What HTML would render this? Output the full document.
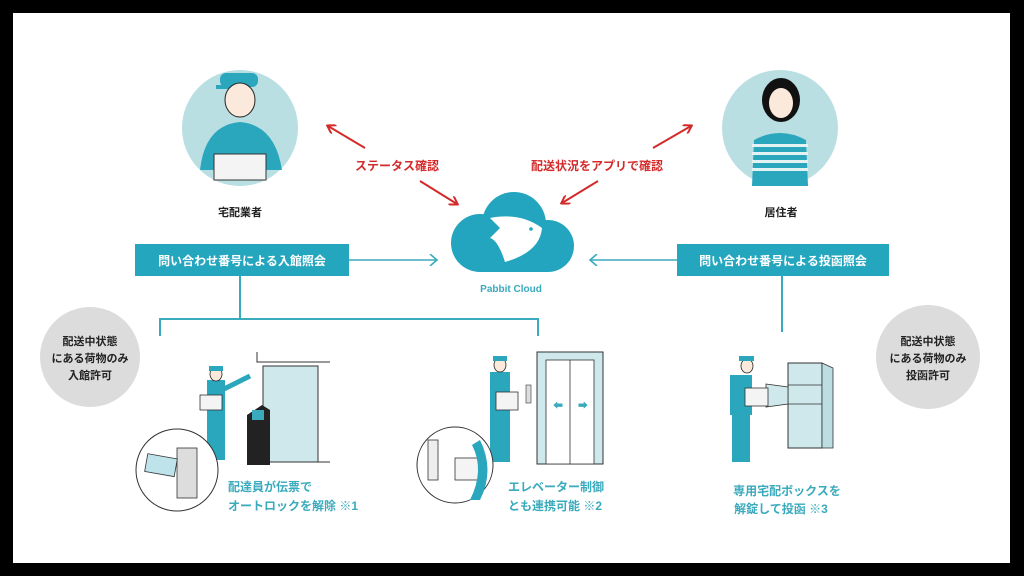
<!DOCTYPE html>
<html><head><meta charset="utf-8"><style>
html,body{margin:0;padding:0;background:#000;}
svg{display:block}
text{font-family:"Liberation Sans","Noto Sans CJK JP",sans-serif;font-weight:bold}
</style></head><body>
<svg width="1024" height="576" viewBox="0 0 1024 576" xmlns="http://www.w3.org/2000/svg">
<rect x="0" y="0" width="1024" height="576" fill="#000"/>
<rect x="13" y="13" width="997" height="550" fill="#fff"/>
<defs>
<marker id="ra" markerWidth="10" markerHeight="10" refX="8" refY="5" orient="auto" markerUnits="userSpaceOnUse"><path d="M1,0 L9,5 L1,10" fill="none" stroke="#d42a2a" stroke-width="2"/></marker>
<marker id="ta" markerWidth="10" markerHeight="12" refX="8" refY="6" orient="auto" markerUnits="userSpaceOnUse"><path d="M1,0 L8,6 L1,12" fill="none" stroke="#3aaabd" stroke-width="1.6"/></marker>
</defs>

<circle cx="240" cy="128" r="58" fill="#b9dfe3"/>
<g>
<rect x="220" y="73" width="38" height="14" rx="6" fill="#2aa6bd"/>
<rect x="216" y="85" width="16" height="4" fill="#2aa6bd"/>
<ellipse cx="240" cy="100" rx="15" ry="17" fill="#fbe9dc" stroke="#222" stroke-width="1"/>
<path d="M200,170 Q205,125 240,122 Q275,125 282,170 Z" fill="#2aa6bd"/>
<rect x="214" y="154" width="52" height="26" fill="#f4f4f4" stroke="#333" stroke-width="1"/>
</g>
<circle cx="780" cy="128" r="58" fill="#b9dfe3"/>
<g>
<ellipse cx="781" cy="100" rx="19" ry="22" fill="#111"/>
<ellipse cx="781" cy="103" rx="12" ry="15" fill="#fbe9dc"/>
<path d="M752,186 L754,140 Q780,126 806,140 L808,186 Z" fill="#2aa6bd"/>
<rect x="752" y="144" width="56" height="3" fill="#e4f2f4"/>
<rect x="752" y="152" width="56" height="3" fill="#e4f2f4"/>
<rect x="752" y="160" width="56" height="3" fill="#e4f2f4"/>
<rect x="752" y="168" width="56" height="3" fill="#e4f2f4"/>
</g>
<text x="240" y="216" font-size="11" text-anchor="middle" fill="#222">宅配業者</text>
<text x="781" y="216" font-size="11" text-anchor="middle" fill="#222">居住者</text>

<line x1="365" y1="148" x2="328" y2="126" stroke="#d42a2a" stroke-width="2" marker-end="url(#ra)"/>
<line x1="420" y1="181" x2="457" y2="204" stroke="#d42a2a" stroke-width="2" marker-end="url(#ra)"/>
<line x1="653" y1="148" x2="691" y2="126" stroke="#d42a2a" stroke-width="2" marker-end="url(#ra)"/>
<line x1="598" y1="181" x2="562" y2="203" stroke="#d42a2a" stroke-width="2" marker-end="url(#ra)"/>
<text x="397" y="170" font-size="12" text-anchor="middle" fill="#d42a2a">ステータス確認</text>
<text x="597" y="170" font-size="12" text-anchor="middle" fill="#d42a2a">配送状況をアプリで確認</text>

<g fill="#23a5bf">
<circle cx="514" cy="224" r="32"/>
<circle cx="480" cy="243" r="29"/>
<circle cx="548" cy="246" r="26"/>
<rect x="480" y="240" width="68" height="32"/>
</g>
<path d="M490,218 Q520,212 542,228 Q540,252 505,262 Q498,240 490,238 L500,228 Z" fill="#fff"/>
<circle cx="531" cy="229" r="1.8" fill="#23a5bf"/>
<text x="511" y="292" font-size="10" text-anchor="middle" fill="#3aaabd">Pabbit Cloud</text>

<rect x="135" y="244" width="214" height="32" fill="#25a6bf"/>
<text x="242" y="265" font-size="12" text-anchor="middle" fill="#fff">問い合わせ番号による入館照会</text>
<rect x="677" y="244" width="212" height="32" fill="#25a6bf"/>
<text x="783" y="265" font-size="12" text-anchor="middle" fill="#fff">問い合わせ番号による投函照会</text>
<line x1="349" y1="260" x2="437" y2="260" stroke="#3aaabd" stroke-width="1.6" marker-end="url(#ta)"/>
<line x1="677" y1="260" x2="590" y2="260" stroke="#3aaabd" stroke-width="1.6" marker-end="url(#ta)"/>

<g stroke="#3aaabd" stroke-width="2" fill="none">
<line x1="240" y1="276" x2="240" y2="319"/>
<polyline points="160,336 160,319 538,319 538,336"/>
<line x1="782" y1="276" x2="782" y2="332"/>
</g>

<circle cx="90" cy="357" r="50" fill="#dcdcdc"/>
<text x="90" y="345" font-size="11" text-anchor="middle" fill="#222">配送中状態</text>
<text x="90" y="362" font-size="11" text-anchor="middle" fill="#222">にある荷物のみ</text>
<text x="90" y="379" font-size="11" text-anchor="middle" fill="#222">入館許可</text>
<circle cx="928" cy="357" r="52" fill="#dcdcdc"/>
<text x="928" y="345" font-size="11" text-anchor="middle" fill="#222">配送中状態</text>
<text x="928" y="362" font-size="11" text-anchor="middle" fill="#222">にある荷物のみ</text>
<text x="928" y="379" font-size="11" text-anchor="middle" fill="#222">投函許可</text>

<g>
<polyline points="257,352 257,362 330,362" fill="none" stroke="#333" stroke-width="1"/>
<rect x="263" y="366" width="55" height="96" fill="#cfe8ec" stroke="#333" stroke-width="1"/>
<line x1="263" y1="462" x2="330" y2="462" stroke="#333"/>
<path d="M247,415 L262,405 L270,410 L270,465 L247,465 Z" fill="#222"/>
<rect x="252" y="410" width="12" height="10" fill="#3aaabd"/>
<rect x="207" y="380" width="18" height="38" fill="#2aa6bd"/>
<rect x="207" y="418" width="18" height="42" fill="#2aa6bd"/>
<ellipse cx="216" cy="374" rx="6" ry="7" fill="#fbe9dc" stroke="#222" stroke-width="0.8"/>
<rect x="209" y="366" width="14" height="5" fill="#2aa6bd"/>
<line x1="222" y1="390" x2="250" y2="376" stroke="#2aa6bd" stroke-width="5"/>
<rect x="200" y="395" width="22" height="15" fill="#f4f4f4" stroke="#333" stroke-width="0.8"/>
<circle cx="177" cy="470" r="41" fill="#fff" stroke="#333" stroke-width="1"/>
<rect x="177" y="448" width="20" height="50" fill="#ddd" stroke="#333" stroke-width="0.8"/>
<rect x="146" y="456" width="30" height="18" fill="#bfe3ea" stroke="#333" stroke-width="0.8" transform="rotate(10 160 465)"/>
</g>
<text x="228" y="491" font-size="12" fill="#3aaabd">配達員が伝票で</text>
<text x="228" y="510" font-size="12" fill="#3aaabd">オートロックを解除 ※1</text>

<g>
<rect x="537" y="352" width="66" height="112" fill="#cfe8ec" stroke="#333" stroke-width="1"/>
<rect x="546" y="360" width="48" height="104" fill="#fff" stroke="#333" stroke-width="0.8"/>
<line x1="570" y1="360" x2="570" y2="464" stroke="#333" stroke-width="0.8"/>
<text x="553" y="409" font-size="10" fill="#3aaabd">⬅</text>
<text x="578" y="409" font-size="10" fill="#3aaabd">➡</text>
<rect x="526" y="385" width="5" height="18" fill="#ddd" stroke="#333" stroke-width="0.6"/>
<rect x="490" y="372" width="20" height="40" fill="#2aa6bd"/>
<rect x="490" y="412" width="20" height="50" fill="#2aa6bd"/>
<ellipse cx="500" cy="365" rx="6" ry="7" fill="#fbe9dc" stroke="#222" stroke-width="0.8"/>
<rect x="493" y="356" width="14" height="5" fill="#2aa6bd"/>
<rect x="496" y="392" width="22" height="18" fill="#f4f4f4" stroke="#333" stroke-width="0.8"/>
<circle cx="455" cy="465" r="38" fill="#fff" stroke="#333" stroke-width="1"/>
<rect x="428" y="440" width="10" height="40" fill="#eee" stroke="#333" stroke-width="0.8"/>
<rect x="455" y="458" width="26" height="22" fill="#f4f4f4" stroke="#333" stroke-width="0.8"/>
<path d="M480,440 Q495,470 480,500 L470,500 Q485,470 472,445 Z" fill="#2aa6bd"/>
</g>
<text x="508" y="491" font-size="12" fill="#3aaabd">エレベーター制御</text>
<text x="508" y="510" font-size="12" fill="#3aaabd">とも連携可能 ※2</text>

<g>
<rect x="788" y="363" width="34" height="85" fill="#cfe8ec" stroke="#333" stroke-width="1"/>
<polygon points="822,363 833,368 833,448 822,448" fill="#bcdde2" stroke="#333" stroke-width="0.8"/>
<line x1="788" y1="385" x2="822" y2="385" stroke="#333" stroke-width="0.8"/>
<line x1="788" y1="404" x2="822" y2="404" stroke="#333" stroke-width="0.8"/>
<polygon points="766,384 788,387 788,404 766,407" fill="#cfe8ec" stroke="#333" stroke-width="0.8"/>
<rect x="730" y="375" width="22" height="40" fill="#2aa6bd"/>
<rect x="732" y="415" width="18" height="47" fill="#2aa6bd"/>
<ellipse cx="747" cy="366" rx="6" ry="7" fill="#fbe9dc" stroke="#222" stroke-width="0.8"/>
<rect x="739" y="356" width="15" height="5" fill="#2aa6bd"/>
<rect x="745" y="388" width="23" height="18" fill="#f4f4f4" stroke="#333" stroke-width="0.8"/>
</g>
<text x="787" y="495" font-size="12" text-anchor="middle" fill="#3aaabd">専用宅配ボックスを</text>
<text x="781" y="513" font-size="12" text-anchor="middle" fill="#3aaabd">解錠して投函 ※3</text>
</svg>
</body></html>
